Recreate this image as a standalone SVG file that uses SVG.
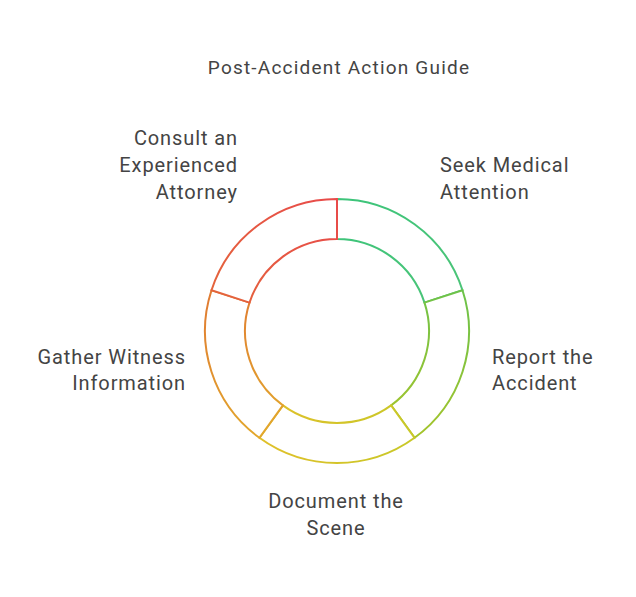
<svg xmlns="http://www.w3.org/2000/svg" width="636" height="597" viewBox="0 0 636 597">
<style>
text{font-family:Roboto,"Liberation Sans",sans-serif;font-size:20px;letter-spacing:0.9px;fill:#444}
.seg{fill:#fff;stroke-width:2}
.r{text-anchor:end}
.m{text-anchor:middle}
</style>
<defs>
<linearGradient id="g1" x1="337" y1="199" x2="462" y2="300" gradientUnits="userSpaceOnUse"><stop offset="0" stop-color="#3cc47a"/><stop offset="1" stop-color="#4cc478"/></linearGradient>
<linearGradient id="g2" x1="462" y1="290" x2="414" y2="438" gradientUnits="userSpaceOnUse"><stop offset="0" stop-color="#6cc24a"/><stop offset="1" stop-color="#a6c42a"/></linearGradient>
<linearGradient id="g3" x1="414" y1="438" x2="259" y2="438" gradientUnits="userSpaceOnUse"><stop offset="0" stop-color="#c8c828"/><stop offset="1" stop-color="#e0c02a"/></linearGradient>
<linearGradient id="g4" x1="259" y1="438" x2="211" y2="290" gradientUnits="userSpaceOnUse"><stop offset="0" stop-color="#e2a82c"/><stop offset="1" stop-color="#e07a32"/></linearGradient>
<linearGradient id="g5" x1="211" y1="290" x2="337" y2="199" gradientUnits="userSpaceOnUse"><stop offset="0" stop-color="#e4643c"/><stop offset="1" stop-color="#e84a4a"/></linearGradient>
</defs>
<rect width="636" height="597" fill="#fff"/>
<text x="339" y="74" class="m" style="font-size:19px;letter-spacing:1.2px">Post-Accident Action Guide</text>
<g id="connectors"></g>
<g id="seek"><path class="seg" stroke="url(#g1)" d="M337,199 A132,132 0 0 1 462.5,290.2 L424.5,302.6 A92,92 0 0 0 337,239 Z"/>
<text x="440" y="172">Seek Medical</text><text x="440" y="199">Attention</text></g>
<g id="report"><path class="seg" stroke="url(#g2)" d="M462.5,290.2 A132,132 0 0 1 414.6,437.8 L391.1,405.4 A92,92 0 0 0 424.5,302.6 Z"/>
<text x="492" y="364">Report the</text><text x="492" y="390">Accident</text></g>
<g id="document"><path class="seg" stroke="url(#g3)" d="M414.6,437.8 A132,132 0 0 1 259.4,437.8 L282.9,405.4 A92,92 0 0 0 391.1,405.4 Z"/>
<text x="336" y="508" class="m">Document the</text><text x="336" y="535" class="m">Scene</text></g>
<g id="gather"><path class="seg" stroke="url(#g4)" d="M259.4,437.8 A132,132 0 0 1 211.5,290.2 L249.5,302.6 A92,92 0 0 0 282.9,405.4 Z"/>
<text x="186" y="364" class="r">Gather Witness</text><text x="186" y="390" class="r">Information</text></g>
<g id="consult"><path class="seg" stroke="url(#g5)" d="M211.5,290.2 A132,132 0 0 1 337,199 L337,239 A92,92 0 0 0 249.5,302.6 Z"/>
<text x="238" y="145" class="r">Consult an</text><text x="238" y="172" class="r">Experienced</text><text x="238" y="199" class="r">Attorney</text></g>
</svg>
